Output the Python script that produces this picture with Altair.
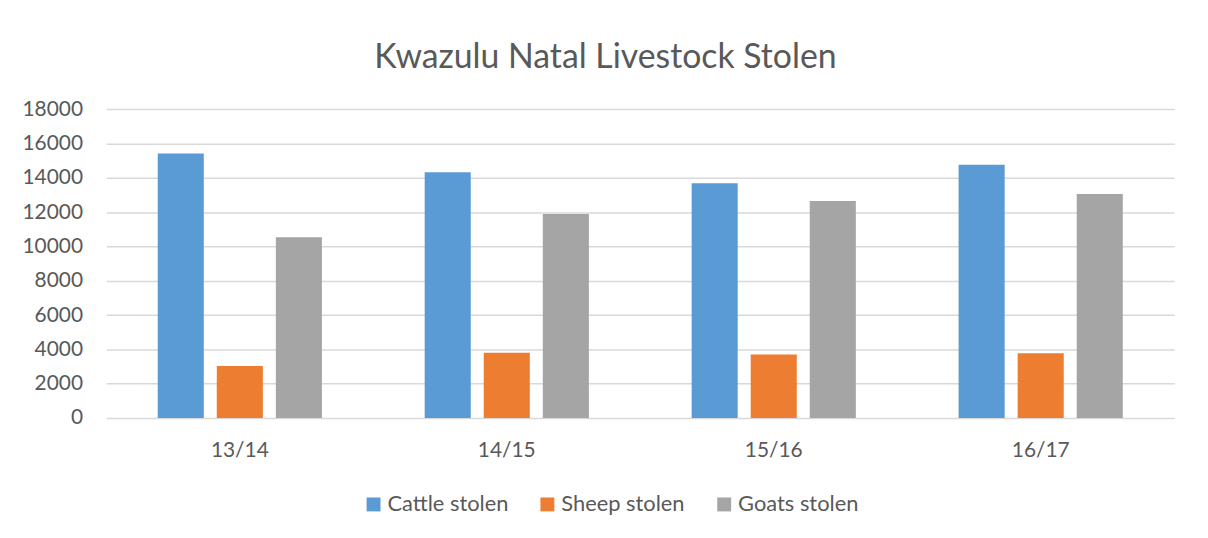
import altair as alt
import pandas as pd

years = ["13/14", "14/15", "15/16", "16/17"]
series = ["Cattle stolen", "Sheep stolen", "Goats stolen"]
cattle = [15420, 14320, 13680, 14760]
sheep = [3030, 3800, 3700, 3780]
goats = [10530, 11890, 12640, 13060]
y_ticks = [0, 2000, 4000, 6000, 8000, 10000, 12000, 14000, 16000, 18000]
colors = ["#5B9BD5", "#ED7D31", "#A5A5A5"]

rows = []
for name, vals in zip(series, [cattle, sheep, goats]):
    for yr, v in zip(years, vals):
        rows.append({"year": yr, "series": name, "value": v})
df = pd.DataFrame(rows)

FONT = "Lato"
TXT = "#595959"

chart = alt.Chart(df).mark_bar().encode(
    x=alt.X(
        "year:N", sort=years,
        scale=alt.Scale(paddingInner=0, paddingOuter=0),
        axis=alt.Axis(title=None, labelAngle=0, ticks=False, domain=False,
                      labelPadding=22, labelFontSize=21, labelColor=TXT,
                      labelFont=FONT, grid=False),
    ),
    xOffset=alt.XOffset("series:N", sort=series,
                        scale=alt.Scale(paddingInner=0.22, paddingOuter=0.87)),
    y=alt.Y(
        "value:Q", scale=alt.Scale(domain=[0, 18000]),
        axis=alt.Axis(title=None, values=y_ticks, ticks=False, domain=False,
                      labelPadding=24, labelFontSize=21, labelColor=TXT,
                      labelFont=FONT, grid=True, gridColor="#d9d9d9",
                      gridWidth=1.5, format="d"),
    ),
    color=alt.Color(
        "series:N", sort=series,
        scale=alt.Scale(domain=series, range=colors),
        legend=alt.Legend(title=None, orient="none", legendX=258, legendY=387,
                          direction="horizontal", symbolType="square",
                          symbolSize=196, labelFontSize=22, labelFont=FONT,
                          labelColor=TXT, columnPadding=28, labelOffset=3,
                          symbolStrokeWidth=0),
    ),
).properties(
    width=1075, height=311,
    title=alt.Title("Kwazulu Natal Livestock Stolen", fontSize=34, font=FONT,
                    color=TXT, fontWeight="normal", offset=23, dx=-35),
    autosize=alt.AutoSizeParams(type="none"),
    padding={"left": 99, "top": 100, "right": 26, "bottom": 119},
).configure_view(stroke=None)

chart.save("out.html", embed_options={"renderer": "svg", "actions": False})
